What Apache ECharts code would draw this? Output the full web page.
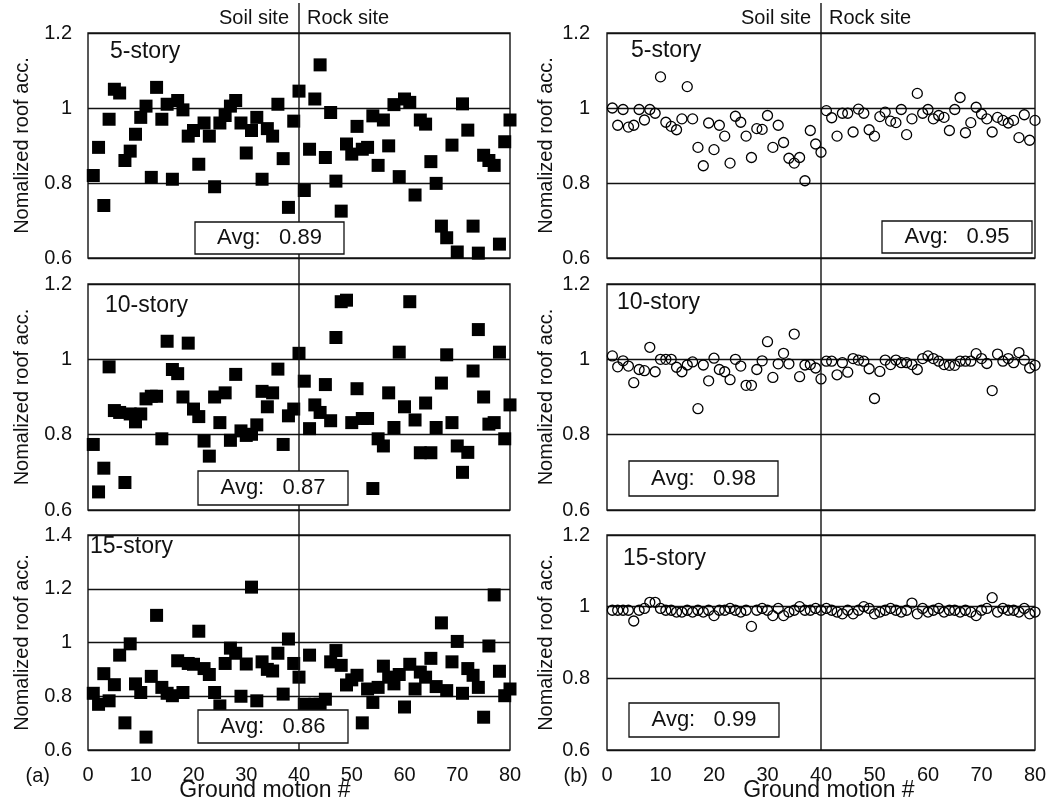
<!DOCTYPE html>
<html>
<head>
<meta charset="utf-8">
<script src="https://cdn.jsdelivr.net/npm/echarts/dist/echarts.min.js"></script>
<style>
  html, body { margin: 0; padding: 0; background: #fff; }
  #chart { width: 1050px; height: 805px; }
</style>
</head>
<body>
<div id="chart"></div>
<script>
// ground motion number (x)
const motionNo = [
  1, 2, 3, 4, 5, 6, 7, 8, 9, 10, 11, 12, 13, 14, 15, 16, 17, 18, 19, 20,
  21, 22, 23, 24, 25, 26, 27, 28, 29, 30, 31, 32, 33, 34, 35, 36, 37, 38, 39, 40,
  41, 42, 43, 44, 45, 46, 47, 48, 49, 50, 51, 52, 53, 54, 55, 56, 57, 58, 59, 60,
  61, 62, 63, 64, 65, 66, 67, 68, 69, 70, 71, 72, 73, 74, 75, 76, 77, 78, 79, 80
];

// (a) normalized roof acc.
const a5story = [
  0.82, 0.895, 0.74, 0.97, 1.05, 1.04, 0.86, 0.885, 0.93, 0.975,
  1.005, 0.815, 1.055, 0.97, 1.01, 0.81, 1.02, 0.995, 0.925, 0.94,
  0.85, 0.96, 0.925, 0.79, 0.96, 0.98, 1.005, 1.02, 0.96, 0.88,
  0.94, 0.975, 0.81, 0.945, 0.925, 1.01, 0.865, 0.735, 0.965, 1.045,
  0.78, 0.89, 1.024, 1.115, 0.868, 0.988, 0.805, 0.725, 0.904, 0.877,
  0.951, 0.89, 0.895, 0.979, 0.847, 0.968, 0.899, 1.009, 0.817, 1.024,
  1.015, 0.768, 0.968, 0.957, 0.857, 0.799, 0.685, 0.654, 0.901, 0.616,
  1.011, 0.941, 0.685, 0.613, 0.874, 0.86, 0.847, 0.637, 0.91, 0.968
];
const a10story = [
  0.774, 0.648, 0.711, 0.98, 0.864, 0.859, 0.673, 0.855, 0.834, 0.855,
  0.895, 0.902, 0.902, 0.789, 1.048, 0.973, 0.962, 0.9, 1.043, 0.868,
  0.848, 0.783, 0.743, 0.9, 0.832, 0.911, 0.785, 0.96, 0.81, 0.798,
  0.801, 0.826, 0.915, 0.874, 0.911, 0.974, 0.774, 0.85, 0.868, 1.016,
  0.942, 0.816, 0.879, 0.859, 0.933, 0.837, 1.058, 1.153, 1.157, 0.832,
  0.922, 0.843, 0.843, 0.657, 0.789, 0.77, 0.911, 0.819, 1.019, 0.874,
  1.153, 0.839, 0.752, 0.884, 0.752, 0.819, 0.937, 1.012, 0.832, 0.77,
  0.70, 0.753, 0.969, 1.079, 0.90, 0.828, 0.832, 1.019, 0.789, 0.879
];
const a15story = [
  0.811, 0.77, 0.884, 0.783, 0.843, 0.953, 0.701, 0.995, 0.846, 0.814,
  0.648, 0.874, 1.101, 0.833, 0.811, 0.802, 0.932, 0.814, 0.922, 0.919,
  1.042, 0.903, 0.881, 0.814, 0.764, 0.922, 0.979, 0.96, 0.80, 0.92,
  1.206, 0.783, 0.928, 0.90, 0.894, 0.96, 0.808, 1.013, 0.922, 0.871,
  0.77, 0.953, 0.77, 0.77, 0.789, 0.928, 0.97, 0.915, 0.842, 0.861,
  0.878, 0.701, 0.827, 0.777, 0.833, 0.912, 0.871, 0.846, 0.881, 0.76,
  0.919, 0.827, 0.89, 0.871, 0.941, 0.836, 1.073, 0.821, 0.928, 1.004,
  0.811, 0.903, 0.878, 0.833, 0.722, 0.987, 1.177, 0.893, 0.802, 0.827
];

// (b) normalized roof acc.
const b5story = [
  1.0, 0.954, 0.996, 0.949, 0.954, 0.996, 0.968, 0.996, 0.986, 1.083,
  0.962, 0.951, 0.942, 0.971, 1.057, 0.971, 0.895, 0.846, 0.96, 0.889,
  0.954, 0.925, 0.853, 0.978, 0.962, 0.925, 0.868, 0.945, 0.943, 0.98,
  0.895, 0.954, 0.908, 0.866, 0.853, 0.868, 0.806, 0.94, 0.904, 0.882,
  0.993, 0.974, 0.925, 0.986, 0.986, 0.936, 0.997, 0.986, 0.942, 0.925,
  0.977, 0.989, 0.965, 0.961, 0.996, 0.929, 0.971, 1.039, 0.986, 0.996,
  0.971, 0.98, 0.975, 0.94, 0.996, 1.028, 0.934, 0.961, 1.002, 0.984,
  0.971, 0.936, 0.975, 0.967, 0.96, 0.967, 0.921, 0.982, 0.914, 0.967
];
const b10story = [
  1.009, 0.98, 0.996, 0.982, 0.938, 0.973, 0.97, 1.032, 0.967, 1.0,
  1.0, 1.0, 0.979, 0.967, 0.985, 0.993, 0.869, 0.985, 0.943, 1.003,
  0.973, 0.967, 0.946, 1.0, 0.982, 0.931, 0.931, 0.973, 0.996, 1.047,
  0.952, 0.988, 1.016, 0.988, 1.067, 0.954, 0.985, 0.986, 0.977, 0.948,
  0.995, 0.995, 0.959, 0.991, 0.966, 1.002, 0.998, 0.995, 0.975, 0.896,
  0.968, 0.998, 0.986, 0.998, 0.991, 0.991, 0.986, 0.973, 1.002, 1.009,
  1.002, 0.995, 0.986, 0.984, 0.984, 0.995, 0.995, 0.995, 1.015, 1.002,
  0.989, 0.917, 1.014, 0.995, 1.002, 0.991, 1.018, 0.998, 0.977, 0.984
];
const b15story = [
  0.99, 0.99, 0.99, 0.99, 0.96, 0.99, 0.995, 1.012, 1.012, 0.995,
  0.99, 0.99, 0.985, 0.985, 0.99, 0.985, 0.99, 0.985, 0.99, 0.975,
  0.99, 0.99, 0.995, 0.99, 0.985, 0.99, 0.945, 0.99, 0.995, 0.99,
  0.975, 0.995, 0.975, 0.985, 0.99, 1.0, 0.99, 0.99, 0.995, 0.99,
  0.995, 0.99, 0.985, 0.98, 0.99, 0.98, 0.99, 1.0, 0.995, 0.98,
  0.985, 0.99, 0.995, 0.99, 0.985, 0.99, 1.01, 0.98, 0.995, 0.985,
  0.99, 0.995, 0.985, 0.99, 0.99, 0.985, 0.99, 0.985, 0.975, 0.99,
  0.995, 1.025, 0.985, 0.995, 0.99, 0.99, 0.985, 0.995, 0.98, 0.985
];

const stories = ['5-story', '10-story', '15-story'];
const avgA = ['0.89', '0.87', '0.86'];
const avgB = ['0.95', '0.98', '0.99'];
const yMaxA = [1.2, 1.2, 1.4];
const yMaxB = [1.2, 1.2, 1.2];
const xTicks = [0, 80, 10]; // min, max, step

const FONT = '"Liberation Sans", Arial, sans-serif';
const INK = '#111';

// layout
const cols = [{ left: 88, width: 422 }, { left: 607, width: 428 }];
const rows = [{ top: 33, height: 225 }, { top: 284, height: 226 }, { top: 535, height: 215 }];
const storyPos = [
  [[110, 52], [105, 306], [90, 547]],
  [[631, 51], [617, 303], [623, 559]]
];
const avgBox = [
  [[195, 222, 149, 32], [198, 471, 150, 34], [198, 710, 150, 33]],
  [[882, 221, 150, 32], [629, 461, 149, 35], [629, 703, 150, 34]]
];
const xTitleX = [265, 829];

const chart = echarts.init(document.getElementById('chart'));

const dataSets = [[a5story, a10story, a15story], [b5story, b10story, b15story]];
const yMax = [yMaxA, yMaxB];

const grid = [], xAxis = [], yAxis = [], series = [];
for (let c = 0; c < 2; c++) {
  for (let r = 0; r < 3; r++) {
    const idx = grid.length;
    const bottomRow = r === 2;
    grid.push({
      left: cols[c].left, width: cols[c].width,
      top: rows[r].top, height: rows[r].height,
      show: true, borderColor: '#222', borderWidth: 1.5
    });
    xAxis.push({
      type: 'value', gridIndex: idx,
      min: xTicks[0], max: xTicks[1], interval: xTicks[2],
      axisLine: { show: false }, axisTick: { show: false },
      splitLine: { show: false },
      axisLabel: { show: bottomRow, fontSize: 20, margin: 15, color: INK, fontFamily: FONT }
    });
    yAxis.push({
      type: 'value', gridIndex: idx,
      min: 0.6, max: yMax[c][r], interval: 0.2,
      axisLine: { show: false }, axisTick: { show: false },
      splitLine: { show: true, lineStyle: { color: INK, width: 1.4 } },
      axisLabel: { fontSize: 20, margin: c === 0 ? 16 : 17, color: INK, fontFamily: FONT },
      name: 'Nomalized roof acc.',
      nameLocation: 'middle', nameGap: c === 0 ? 56 : 51,
      nameTextStyle: { fontSize: 20, color: INK, fontFamily: FONT }
    });
    const vals = dataSets[c][r];
    series.push({
      type: 'scatter', xAxisIndex: idx, yAxisIndex: idx,
      data: motionNo.map((n, i) => [n, vals[i]]),
      symbol: c === 0 ? 'rect' : 'circle',
      symbolSize: c === 0 ? 13 : 10,
      itemStyle: c === 0
        ? { color: '#000', opacity: 1 }
        : { color: 'rgba(0,0,0,0)', borderColor: '#000', borderWidth: 1.3, opacity: 1 },
      emphasis: { disabled: true },
      silent: true
    });
  }
}

chart.setOption({
  animation: false,
  backgroundColor: '#fff',
  grid, xAxis, yAxis, series
});

// boundary between soil and rock sites (ground motion 40)
const siteSplit = 40;
const graphic = [];
const avgs = [avgA, avgB];
const txt = (text, x, y, size, align, z) => ({
  type: 'text', z: z || 6,
  style: { text, x, y, align, verticalAlign: 'middle', fontSize: size, fontFamily: FONT, fill: INK }
});
for (let c = 0; c < 2; c++) {
  const gTop = c * 3, gBot = c * 3 + 2;
  const lx = chart.convertToPixel({ gridIndex: gTop }, [siteSplit, 1])[0];
  const ly = chart.convertToPixel({ gridIndex: gBot }, [siteSplit, 0.6])[1];
  graphic.push({
    type: 'line', z: 5,
    shape: { x1: lx, y1: 3, x2: lx, y2: ly },
    style: { stroke: INK, lineWidth: 1.4 }
  });
  graphic.push(txt('Soil site', lx - 10, 18, 20, 'right'));
  graphic.push(txt('Rock site', lx + 8, 18, 20, 'left'));
  graphic.push(txt('Ground motion #', xTitleX[c], 791, 23, 'center'));
  for (let r = 0; r < 3; r++) {
    const p = storyPos[c][r];
    graphic.push(txt(stories[r], p[0], p[1], 23, 'left'));
    const b = avgBox[c][r];
    graphic.push({
      type: 'rect', z: 10,
      shape: { x: b[0], y: b[1], width: b[2], height: b[3] },
      style: { fill: '#fff', stroke: INK, lineWidth: 1.3 }
    });
    graphic.push(txt('Avg:   ' + avgs[c][r], b[0] + b[2] / 2, b[1] + b[3] / 2, 22, 'center', 11));
  }
}
graphic.push(txt('(a)', 50, 776, 20, 'right'));
graphic.push(txt('(b)', 588, 776, 20, 'right'));

chart.setOption({ graphic });
</script>
</body>
</html>
